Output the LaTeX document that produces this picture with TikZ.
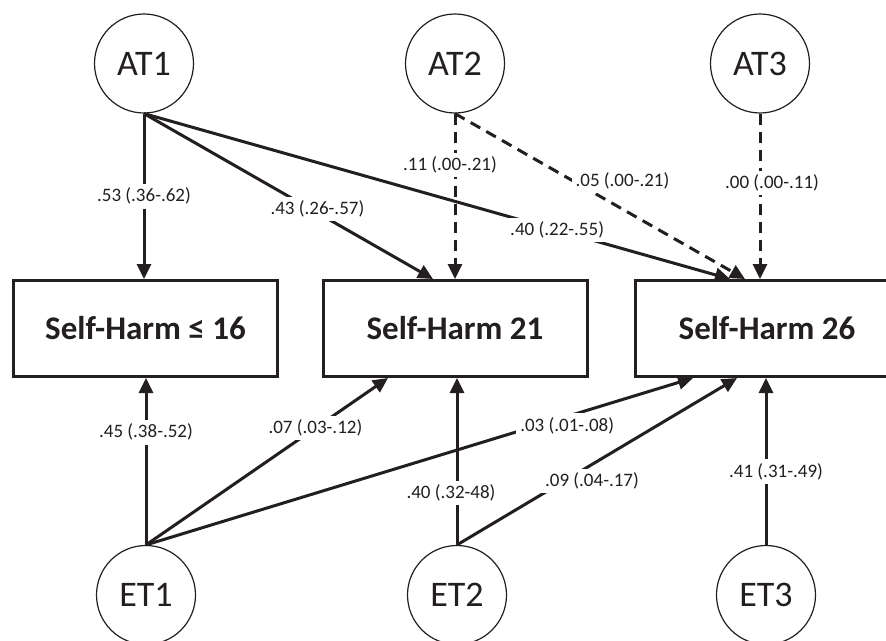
\documentclass[tikz,border=0pt]{standalone}
\usepackage{fontspec}
\setmainfont{Carlito}
\usetikzlibrary{arrows.meta}
\definecolor{ink}{HTML}{231F20}

\tikzset{
  latent/.style={circle, draw=ink, line width=1.2pt, minimum size=99pt, inner sep=0pt, text=ink, font=\fontsize{36}{40}\selectfont},
  observed/.style={rectangle, draw=ink, line width=3pt, minimum width=264pt, minimum height=96pt, text=ink, font=\bfseries\fontsize{33}{38}\selectfont},
  effect/.style={draw=ink, line width=3pt, -{Triangle[length=15pt, width=14pt]}},
  weak/.style={effect, dash pattern=on 11pt off 7pt},
  coef/.style={fill=white, inner sep=4pt, text=ink, font=\fontsize{19}{22}\selectfont}
}

\begin{document}
\begin{tikzpicture}[x=1pt, y=-1pt]
		\clip (0,0) rectangle (886,640);
		\node at (144,63.5) [latent] (AT1) {AT1};
		\node at (455,63.5) [latent] (AT2) {AT2};
		\node at (760,63.5) [latent] (AT3) {AT3};
		\node at (145.5,328.5) [observed] (SH16) {Self-Harm ≤ 16};
		\node at (455,328.5) [observed] (SH21) {Self-Harm 21};
		\node at (767,328.5) [observed] (SH26) {Self-Harm 26};
		\node at (146,595) [latent] (ET1) {ET1};
		\node at (457,595) [latent] (ET2) {ET2};
		\node at (766,595) [latent] (ET3) {ET3};
		\draw[effect] (AT1.south) -- (AT1.south |- SH16.north) node[coef, pos=0.5] {.53 (.36-.62)};
		\draw[effect] (AT1.south) -- ([xshift=-22pt]SH21.north) node[coef, pos=0.6, yshift=4pt] {.43 (.26-.57)};
		\draw[effect] (AT1.south) -- ([xshift=-37pt]SH26.north) node[coef, pos=0.705] {.40 (.22-.55)};
		\draw[weak] (AT2.south) -- (AT2.south |- SH21.north) node[coef, pos=0.31, xshift=-5pt] {.11 (.00-.21)};
		\draw[weak] (AT2.south) -- ([xshift=-22pt]SH26.north) node[coef, pos=0.45, xshift=37pt, yshift=7pt] {.05 (.00-.21)};
		\draw[weak] (AT3.south) -- (AT3.south |- SH26.north) node[coef, pos=0.42, xshift=12pt] {.00 (.00-.11)};
		\draw[effect] (ET1.north) -- (ET1.north |- SH16.south) node[coef, pos=0.675] {.45 (.38-.52)};
		\draw[effect] (ET1.north) -- ([xshift=-67pt]SH21.south) node[coef, pos=0.7] {.07 (.03-.12)};
		\draw[effect] (ET1.north) -- ([xshift=-74pt]SH26.south) node[coef, pos=0.77, yshift=-9pt] {.03 (.01-.08)};
		\draw[effect] (ET2.north) -- (ET2.north |- SH21.south) node[coef, pos=0.31, xshift=-6pt] {.40 (.32-48)};
		\draw[effect] (ET2.north) -- ([xshift=-30pt]SH26.south) node[coef, pos=0.4, xshift=23pt, yshift=-3pt] {.09 (.04-.17)};
		\draw[effect] (ET3.north) -- (ET3.north |- SH26.south) node[coef, pos=0.44, xshift=10pt] {.41 (.31-.49)};
\end{tikzpicture}
\end{document}
